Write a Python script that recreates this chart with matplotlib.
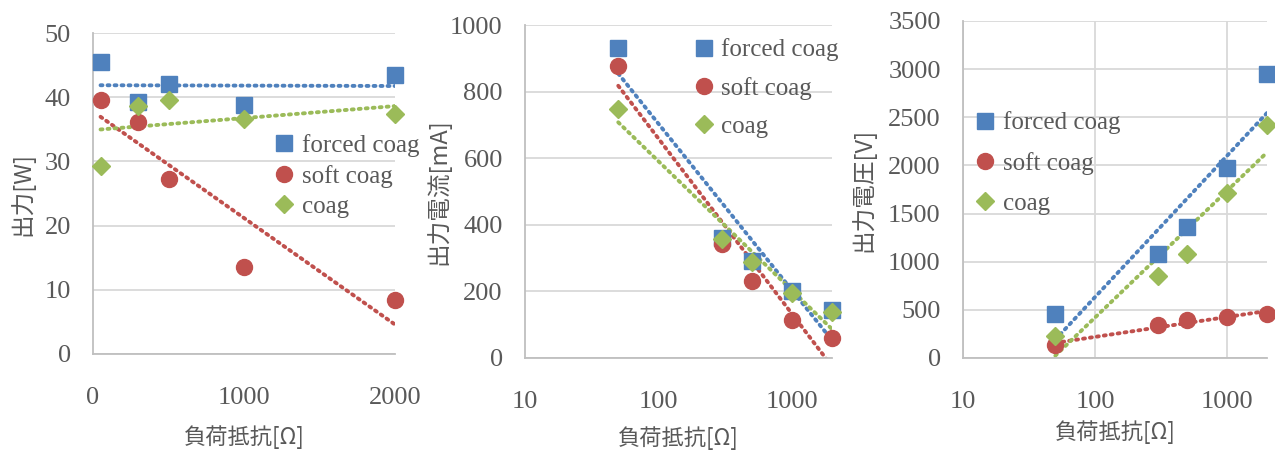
import numpy as np
import matplotlib
matplotlib.use("Agg")
import matplotlib.pyplot as plt

plt.rcParams['font.family'] = ['Liberation Serif', 'Noto Sans CJK JP']

# load resistance [ohm]
load = [50, 300, 500, 1000, 2000]
series = ['forced coag', 'soft coag', 'coag']

# output power [W]
power_forced = [45.5, 39.3, 42.0, 38.8, 43.5]
power_soft = [39.6, 36.2, 27.3, 13.5, 8.4]
power_coag = [29.3, 38.7, 39.6, 36.6, 37.4]

# output current [mA]
current_forced = [932, 360, 292, 202, 145]
current_soft = [878, 342, 230, 115, 60]
current_coag = [747, 357, 287, 195, 138]

# output voltage [V]
voltage_forced = [456, 1082, 1365, 1976, 2954]
voltage_soft = [131, 345, 397, 425, 456]
voltage_coag = [232, 847, 1082, 1710, 2419]

colors = ['#4F81BD', '#C0504D', '#9BBB59']
markers = ['s', 'o', 'D']
msizes = [11, 11.5, 9]
grey = '#595959'
jp = ['Noto Sans CJK JP']

fig = plt.figure(figsize=(12.75, 4.55), dpi=100)
W, H = 1275, 455
def add_ax(x0, x1, y0, y1):
    return fig.add_axes([x0 / W, 1 - y1 / H, (x1 - x0) / W, (y1 - y0) / H])

ax1 = add_ax(93, 395, 33, 354)
ax2 = add_ax(525, 832, 25, 358)
ax3 = add_ax(963, 1267, 21, 358)

# ax, data, log x, ylabel, ylim, step, legend x, legend y, label spacing, ylabel x, xlabel y
panels = [
    (ax1, [power_forced, power_soft, power_coag], False, '出力[W]', (0, 50), 10,
     0.60, 0.685, 0.30, -0.235, -0.26),
    (ax2, [current_forced, current_soft, current_coag], True, '出力電流[mA]', (0, 1000), 200,
     0.55, 0.96, 0.62, -0.283, -0.24),
    (ax3, [voltage_forced, voltage_soft, voltage_coag], True, '出力電圧[V]', (0, 3500), 500,
     0.04, 0.732, 0.70, -0.33, -0.22),
]

xs = np.array(load, dtype=float)
for ax, data, logx, ylabel, ylim, ystep, lx, ly, lsp, ylx, xly in panels:
    for vals, c, m, ms, name in zip(data, colors, markers, msizes, series):
        ax.plot(load, vals, linestyle='none', marker=m, color=c, markersize=ms,
                label=name, zorder=3, clip_on=False)
        # trendline (linear or logarithmic like the spreadsheet)
        xt = np.log(xs) if logx else xs
        k, b = np.polyfit(xt, np.array(vals, dtype=float), 1)
        xx = np.linspace(50, 2000, 200)
        yy = k * (np.log(xx) if logx else xx) + b
        ax.plot(xx, yy, color=c, linestyle=(0, (0.5, 1.3)), linewidth=2.8,
                dash_capstyle='round', zorder=2)
    if logx:
        ax.set_xscale('log')
        ax.set_xlim(10, 2000)
        ax.set_xticks([10, 100, 1000])
        ax.set_xticklabels(['10', '100', '1000'])
        ax.minorticks_off()
    else:
        ax.set_xlim(0, 2000)
        ax.set_xticks([0, 1000, 2000])
    ax.set_ylim(*ylim)
    ax.set_yticks(np.arange(ylim[0], ylim[1] + 1, ystep))
    ax.grid(axis='y', color='#D9D9D9', linewidth=1.3)
    if ax is ax3:
        ax.grid(axis='x', color='#D9D9D9', linewidth=1.3)
    ax.set_axisbelow(True)
    for s in ['top', 'right']:
        ax.spines[s].set_visible(False)
    for s in ['left', 'bottom']:
        ax.spines[s].set_color('#BFBFBF')
        ax.spines[s].set_linewidth(1.3)
    ax.tick_params(length=0, labelsize=19, colors=grey)
    ax.tick_params(axis='x', pad=24)
    ax.tick_params(axis='y', pad=16)
    ax.set_ylabel(ylabel, family=jp, fontsize=17, color=grey, va='center')
    ax.yaxis.set_label_coords(ylx, 0.5)
    ax.set_xlabel('負荷抵抗[Ω]', family=jp, fontsize=16, color=grey, va='center')
    ax.xaxis.set_label_coords(0.5, xly)
    ax.legend(loc='upper left', bbox_to_anchor=(lx, ly), frameon=False,
              fontsize=18, handlelength=0.8, handletextpad=0.3, borderpad=0,
              borderaxespad=0, labelspacing=lsp, labelcolor=grey)

fig.savefig('out.png', dpi=100)
